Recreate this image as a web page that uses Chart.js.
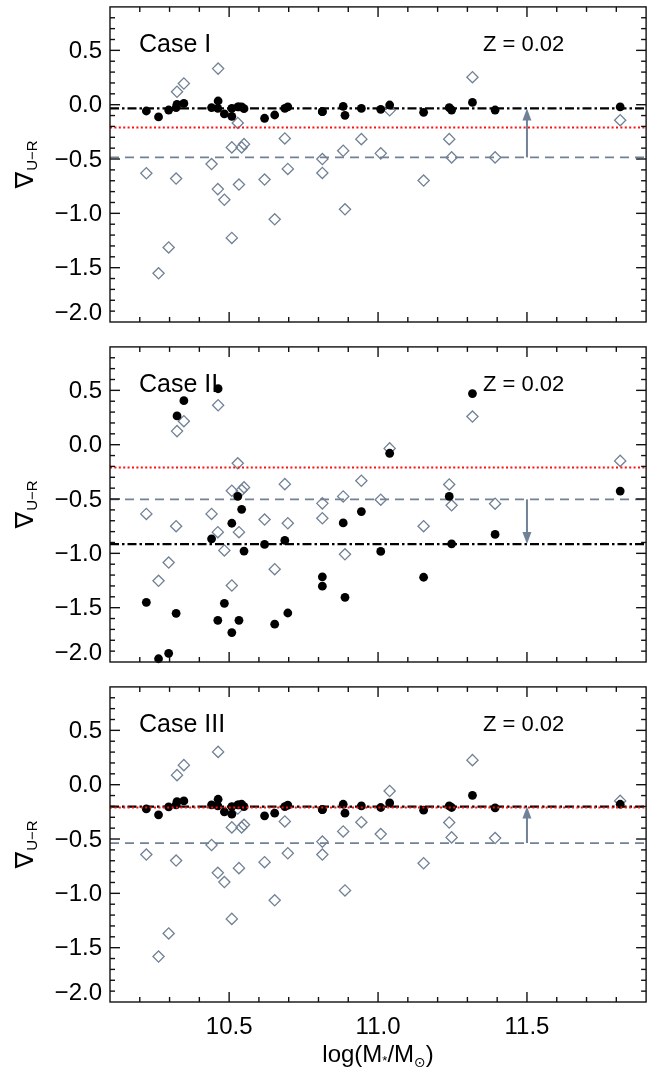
<!DOCTYPE html>
<html>
<head>
<meta charset="utf-8">
<script src="https://cdn.jsdelivr.net/npm/chart.js@4.4.1/dist/chart.umd.min.js"></script>
<style>
  html, body { margin: 0; padding: 0; background: #fff; }
  #wrap { position: relative; width: 653px; height: 1067px; overflow: hidden; }
  #wrap canvas { position: absolute; left: 0; }
</style>
</head>
<body>
<div id="wrap">
  <canvas id="panel1" width="653" height="340" style="top:0px"></canvas>
  <canvas id="panel2" width="653" height="340" style="top:340px"></canvas>
  <canvas id="panel3" width="653" height="387" style="top:680px"></canvas>
</div>
<script>
// axis ranges and tick labels
const xMin = 10.1, xMax = 11.9;
const yMin = -2.0, yMax = 0.9;
const xTickValues = [10.5, 11.0, 11.5];
const xTickLabels = ['10.5', '11.0', '11.5'];
const yTickValues = [0.5, 0.0, -0.5, -1.0, -1.5, -2.0];
const yTickLabels = ['0.5', '0.0', '\u22120.5', '\u22121.0', '\u22121.5', '\u22122.0'];

const caseNames = ['Case I', 'Case II', 'Case III'];
const zLabel = 'Z = 0.02';

// galaxy masses, log(M*/Msun), shared by every panel
const logMass = [10.222, 10.263, 10.297, 10.322, 10.325, 10.348, 10.441, 10.462, 10.463, 10.484,
                 10.509, 10.509, 10.529, 10.533, 10.542, 10.550, 10.619, 10.653, 10.687, 10.697,
                 10.813, 10.813, 10.883, 10.889, 10.944, 11.009, 11.039, 11.153, 11.239, 11.247,
                 11.317, 11.393, 11.813];

// model gradients (filled dots)
const modelCaseI = [-0.058, -0.113, -0.049, -0.027, 0.003, 0.012, -0.027, -0.034, 0.034, -0.085,
                    -0.034, -0.107, -0.021, -0.021, -0.021, -0.037, -0.125, -0.095, -0.034, -0.021,
                    -0.064, -0.064, -0.015, -0.098, -0.034, -0.043, -0.003, -0.070, -0.027, -0.049,
                    0.021, -0.049, -0.021];
const modelCaseII = [-1.451, -1.97, -1.92, -1.552, 0.265, 0.405, -0.866, -1.616, 0.515, -1.46,
                     -0.723, -1.729, -0.476, -1.616, -0.595, -0.979, -0.918, -1.652, -0.881, -1.549,
                     -1.216, -1.302, -0.72, -1.405, -0.616, -0.982, -0.079, -1.22, -0.476, -0.912,
                     0.47, -0.826, -0.427];
const modelCaseIII = [-0.223, -0.277, -0.204, -0.186, -0.155, -0.149, -0.186, -0.195, -0.134, -0.25,
                      -0.201, -0.271, -0.186, -0.186, -0.18, -0.201, -0.287, -0.262, -0.201, -0.189,
                      -0.229, -0.229, -0.180, -0.262, -0.195, -0.210, -0.168, -0.235, -0.195, -0.210,
                      -0.098, -0.213, -0.18];

// observed gradients (open diamonds)
const obsCaseI = [-0.631, -1.552, -1.314, -0.680, 0.119, 0.195, -0.546, -0.777, 0.332, -0.875,
                  -0.393, -1.226, -0.168, -0.735, -0.393, -0.363, -0.689, -1.055, -0.311, -0.591,
                  -0.500, -0.628, -0.424, -0.963, -0.317, -0.448, -0.052, -0.698, -0.317, -0.485,
                  0.253, -0.485, -0.143];
const obsCaseII = [-0.637, -1.253, -1.085, -0.75, 0.125, 0.216, -0.637, -0.805, 0.363, -0.973,
                   -0.424, -1.296, -0.171, -0.805, -0.418, -0.393, -0.689, -1.146, -0.363, -0.723,
                   -0.54, -0.677, -0.476, -1.009, -0.332, -0.506, -0.034, -0.75, -0.366, -0.558,
                   0.259, -0.543, -0.149];
const obsCaseIII = [-0.643, -1.582, -1.369, -0.698, 0.088, 0.180, -0.555, -0.811, 0.302, -0.896,
                    -0.393, -1.235, -0.22, -0.768, -0.393, -0.369, -0.713, -1.064, -0.338, -0.631,
                    -0.524, -0.643, -0.430, -0.973, -0.345, -0.454, -0.058, -0.723, -0.348, -0.485,
                    0.226, -0.491, -0.149];

// horizontal reference levels per panel
const modelMean = [-0.034, -0.915, -0.201];
const obsMean = [-0.485, -0.503, -0.537];
const solarLevel = [-0.21, -0.21, -0.21];
const arrowX = 11.5;

const FONT = '"Liberation Sans", Arial, Helvetica, "DejaVu Sans", sans-serif';
const GRAY = '#718196';

function pts(ys) {
  return logMass.map((m, i) => ({ x: m, y: ys[i] }));
}
function hline(v) {
  return [{ x: xMin, y: v }, { x: xMax, y: v }];
}

function seg(ctx, x1, y1, x2, y2) {
  ctx.beginPath(); ctx.moveTo(x1, y1); ctx.lineTo(x2, y2); ctx.stroke();
}

const framePlugin = {
  id: 'frame',
  afterDraw(chart, args, o) {
    const { ctx, chartArea: a, scales: { x, y } } = chart;
    ctx.save();
    // arrow from observed mean to model mean
    const ax = x.getPixelForValue(arrowX);
    const y0 = y.getPixelForValue(o.from), y1 = y.getPixelForValue(o.to);
    const dir = y1 < y0 ? 1 : -1;
    ctx.strokeStyle = GRAY; ctx.fillStyle = GRAY; ctx.lineWidth = 2;
    seg(ctx, ax, y0, ax, y1 + dir * 10);
    ctx.beginPath();
    ctx.moveTo(ax, y1);
    ctx.lineTo(ax - 4.5, y1 + dir * 12);
    ctx.lineTo(ax + 4.5, y1 + dir * 12);
    ctx.closePath(); ctx.fill();

    // box and inward ticks
    ctx.strokeStyle = '#111'; ctx.lineWidth = 1.4;
    ctx.strokeRect(a.left, a.top, a.right - a.left, a.bottom - a.top);
    const nx = Math.round((xMax - xMin) / 0.1);
    for (let i = 1; i < nx; i++) {
      const v = xMin + i * 0.1;
      const major = xTickValues.some(t => Math.abs(t - v) < 1e-6);
      const len = major ? 10 : 5;
      const px = x.getPixelForValue(v);
      seg(ctx, px, a.bottom, px, a.bottom - len);
      seg(ctx, px, a.top, px, a.top + len);
    }
    const ny = Math.round((yMax - yMin) / 0.1);
    for (let i = 1; i < ny; i++) {
      const v = yMin + i * 0.1;
      const major = yTickValues.some(t => Math.abs(t - v) < 1e-6);
      const len = major ? 10 : 5;
      const py = y.getPixelForValue(v);
      seg(ctx, a.left, py, a.left + len, py);
      seg(ctx, a.right, py, a.right - len, py);
    }

    // y tick labels
    ctx.fillStyle = '#000';
    ctx.font = '24px ' + FONT;
    ctx.textAlign = 'right'; ctx.textBaseline = 'middle';
    yTickValues.forEach((v, i) => {
      let py = y.getPixelForValue(v);
      if (v === yMin) py -= 10;
      ctx.fillText(yTickLabels[i], a.left - 8, py + 1);
    });

    // x tick labels and title on the bottom panel only
    if (o.showX) {
      ctx.textAlign = 'center'; ctx.textBaseline = 'alphabetic';
      xTickValues.forEach((v, i) => {
        ctx.fillText(xTickLabels[i], x.getPixelForValue(v), a.bottom + 32);
      });
      const parts = [['log(M', 24, 0], ['*', 13, 3], ['/M', 24, 0], ['\u2299', 14, 5], [')', 24, 0]];
      let total = 0;
      parts.forEach(p => { ctx.font = p[1] + 'px ' + FONT; total += ctx.measureText(p[0]).width; });
      let cx = (a.left + a.right) / 2 - total / 2;
      ctx.textAlign = 'left';
      parts.forEach(p => {
        ctx.font = p[1] + 'px ' + FONT;
        ctx.fillText(p[0], cx, a.bottom + 60 + p[2]);
        cx += ctx.measureText(p[0]).width;
      });
    }

    // y title: nabla with U-R subscript, rotated
    const cy = (a.top + a.bottom) / 2;
    ctx.translate(25, cy);
    ctx.rotate(-Math.PI / 2);
    ctx.textAlign = 'left'; ctx.textBaseline = 'alphabetic';
    ctx.font = '25px ' + FONT;
    const w1 = ctx.measureText('\u2207').width;
    ctx.font = '15px ' + FONT;
    const w2 = ctx.measureText('U\u2212R').width;
    const start = -(w1 + 1 + w2) / 2;
    ctx.font = '25px ' + FONT;
    ctx.fillText('\u2207', start, 8);
    ctx.font = '15px ' + FONT;
    ctx.fillText('U\u2212R', start + w1 + 1, 12);
    ctx.setTransform(1, 0, 0, 1, 0, 0);
    ctx.restore();

    // panel annotations
    ctx.save();
    ctx.fillStyle = '#000';
    ctx.textAlign = 'left'; ctx.textBaseline = 'alphabetic';
    ctx.font = '25px ' + FONT;
    ctx.fillText(o.caseName, 139, a.top + 45);
    ctx.font = '22px ' + FONT;
    ctx.fillText(zLabel, 483, a.top + 44);
    ctx.restore();
  }
};

function makePanel(id, k, model, obs, showX, bottomPad) {
  new Chart(document.getElementById(id), {
    type: 'scatter',
    data: {
      datasets: [
        { label: 'solar', type: 'line', data: hline(solarLevel[k]), borderColor: '#ff1010',
          borderWidth: 2, borderDash: [2, 2.4], pointRadius: 0, fill: false },
        { label: 'model', data: pts(model), backgroundColor: '#000', borderColor: '#000',
          borderWidth: 0, pointRadius: 4.4, pointStyle: 'circle', clip: false },
        { label: 'observed', data: pts(obs), backgroundColor: 'rgba(0,0,0,0)', borderColor: GRAY,
          borderWidth: 1.3, pointRadius: 5.6, pointStyle: 'rectRot' },
        { label: 'model mean', type: 'line', data: hline(modelMean[k]), borderColor: '#000',
          borderWidth: 2.2, borderDash: [9, 3, 2.5, 3], pointRadius: 0, fill: false },
        { label: 'observed mean', type: 'line', data: hline(obsMean[k]), borderColor: GRAY,
          borderWidth: 1.8, borderDash: [9, 6], pointRadius: 0, fill: false }
      ]
    },
    options: {
      responsive: false,
      animation: false,
      events: [],
      layout: { padding: { left: 110, right: 5, top: 5, bottom: bottomPad } },
      scales: {
        x: { type: 'linear', min: xMin, max: xMax, display: false },
        y: { type: 'linear', min: yMin, max: yMax, display: false }
      },
      plugins: {
        legend: { display: false },
        tooltip: { enabled: false },
        frame: { caseName: caseNames[k], from: obsMean[k], to: modelMean[k], showX: showX }
      }
    },
    plugins: [framePlugin]
  });
}

makePanel('panel1', 0, modelCaseI, obsCaseI, false, 18);
makePanel('panel2', 1, modelCaseII, obsCaseII, false, 18);
makePanel('panel3', 2, modelCaseIII, obsCaseIII, true, 65);
</script>
</body>
</html>
